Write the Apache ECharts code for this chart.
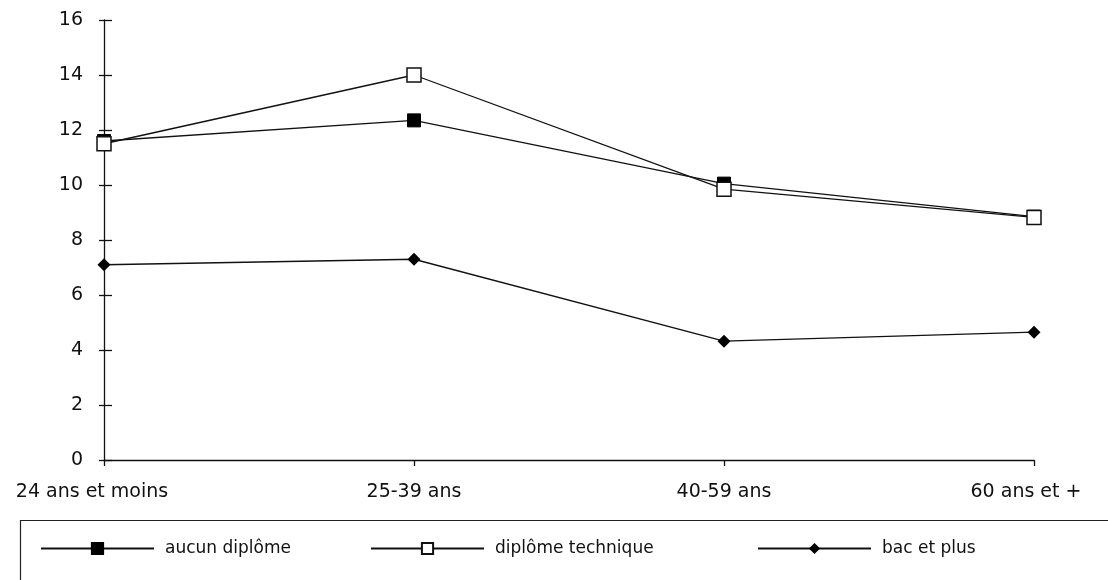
<!DOCTYPE html>
<html>
<head>
<meta charset="utf-8">
<script src="https://cdn.jsdelivr.net/npm/echarts@6/dist/echarts.min.js"></script>
<style>
html,body{margin:0;padding:0;background:#fff;}
#c{width:1108px;height:580px;}
</style>
</head>
<body>
<div id="c"></div>
<script>
const categories = ['24 ans et moins', '25-39 ans', '40-59 ans', '60 ans et +'];
const aucunDiplome = [11.6, 12.35, 10.05, 8.85];
const diplomeTechnique = [11.5, 14.0, 9.85, 8.82];
const bacEtPlus = [7.1, 7.3, 4.32, 4.65];
const yTicks = [0, 2, 4, 6, 8, 10, 12, 14, 16];

const FONT = 'DejaVu Sans';
const AX = 19;
const chart = echarts.init(document.getElementById('c'), null, {renderer: 'canvas'});

const lineStyle = {color: '#111', width: 1.3};
function mkLegend(name, left) {
  return {
    data: [name], left: left, top: 540, padding: 0,
    itemWidth: 113, itemHeight: 14, itemGap: 0,
    textStyle: {fontFamily: FONT, fontSize: 17, color: '#111', padding: [0, 0, 0, 6]}
  };
}

chart.setOption({
  animation: false,
  backgroundColor: '#fff',
  grid: {left: 104, right: 74, top: 20, bottom: 120},
  legend: [
    mkLegend('aucun diplôme', 40),
    mkLegend('diplôme technique', 370),
    mkLegend('bac et plus', 757)
  ],
  graphic: [{
    type: 'rect', left: 18, top: 518,
    shape: {width: 1110, height: 60},
    style: {fill: 'none', stroke: '#222', lineWidth: 1.2},
    silent: true
  }],
  xAxis: {
    type: 'category', data: categories, boundaryGap: false,
    axisLine: {lineStyle: {color: '#111', width: 1.3}},
    axisTick: {show: true, length: 6, lineStyle: {color: '#111', width: 1.3}},
    axisLabel: {
      margin: 23, fontFamily: FONT, fontSize: AX, color: '#111',
      formatter: function (v, i) {
        if (i === 0) return '{f|' + v + '}';
        if (i === categories.length - 1) return '{l|' + v + '}';
        return v;
      },
      rich: {
        f: {fontFamily: FONT, fontSize: AX, color: '#111', padding: [0, 24, 0, 0]},
        l: {fontFamily: FONT, fontSize: AX, color: '#111', padding: [0, 16, 0, 0]}
      }
    },
    splitLine: {show: false}
  },
  yAxis: [{
    type: 'value', min: 0, max: 16, interval: 2,
    axisLine: {show: true, lineStyle: {color: '#111', width: 1.3}},
    axisTick: {show: true, length: 5, lineStyle: {color: '#111', width: 1.3}},
    axisLabel: {margin: 21, fontFamily: FONT, fontSize: AX, color: '#111',
      formatter: function (v) { return yTicks.indexOf(v) >= 0 ? String(v) : ''; }},
    splitLine: {show: false}
  }, {
    type: 'value', min: 0, max: 16, interval: 2, position: 'left',
    axisLine: {show: false},
    axisTick: {show: true, inside: true, length: 8, lineStyle: {color: '#111', width: 1.3}},
    axisLabel: {show: false},
    splitLine: {show: false}
  }],
  series: [{
    name: 'aucun diplôme', type: 'line', data: aucunDiplome,
    symbol: 'rect', symbolSize: 13,
    lineStyle: lineStyle,
    itemStyle: {color: '#000', borderColor: '#000', borderWidth: 1}
  }, {
    name: 'diplôme technique', type: 'line', data: diplomeTechnique,
    symbol: 'rect', symbolSize: 14,
    lineStyle: lineStyle,
    itemStyle: {color: '#fff', borderColor: '#111', borderWidth: 1.5}
  }, {
    name: 'bac et plus', type: 'line', data: bacEtPlus,
    symbol: 'diamond', symbolSize: [13, 13],
    lineStyle: lineStyle,
    itemStyle: {color: '#000', borderColor: '#000', borderWidth: 0}
  }]
});
</script>
</body>
</html>
